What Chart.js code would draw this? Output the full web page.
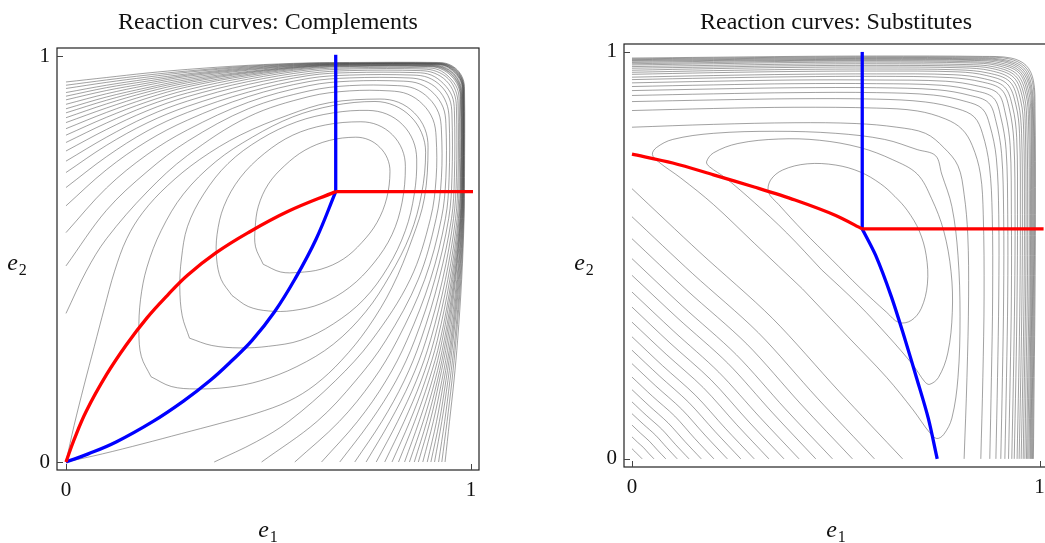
<!DOCTYPE html>
<html>
<head>
<meta charset="utf-8">
<script src="https://cdn.jsdelivr.net/npm/chart.js@4.4.1/dist/chart.umd.min.js"></script>
<style>
    body { margin: 0; background: #fff; width: 1045px; height: 543px; overflow: hidden; position: relative; font-family: "Liberation Serif", serif; color: #111; }
    canvas { position: absolute; top: 0; }
    .ttl { position: absolute; top: 8px; font-size: 24px; line-height: 26px; white-space: nowrap; transform: translateX(-50%); }
    .ax { position: absolute; font-size: 24px; line-height: 24px; white-space: nowrap; transform: translate(-50%, -50%); }
    .ax sub { font-size: 16px; vertical-align: baseline; position: relative; top: 5px; margin-left: 1px; }
</style>
</head>
<body>
<canvas id="comp" width="520" height="543" style="left:0"></canvas>
<canvas id="subs" width="540" height="543" style="left:520px"></canvas>

<div class="ttl" style="left:268px">Reaction curves: Complements</div>
<div class="ttl" style="left:836px">Reaction curves: Substitutes</div>
<div class="ax" style="left:17px; top:263px"><i>e</i><sub>2</sub></div>
<div class="ax" style="left:584px; top:263px"><i>e</i><sub>2</sub></div>
<div class="ax" style="left:268px; top:530px"><i>e</i><sub>1</sub></div>
<div class="ax" style="left:836px; top:530px"><i>e</i><sub>1</sub></div>

<script>
const tickVals = [0, 1];

// ---- Complements: reaction curves (x, y pairs)
const compRed = [0,0, .02,.055, .05,.125, .1,.215, .15,.29, .2,.355, .25,.41, .3,.46, .37,.515, .45,.565, .55,.618, .666,.666];
const compRedFlat = [.666,.666, 1.005,.666];
const compBlue = [0,0, .055,.02, .125,.05, .215,.1, .29,.15, .355,.2, .41,.25, .46,.3, .515,.37, .565,.45, .618,.55, .666,.666];
const compBlueUp = [.666,.666, .666,1.003];

// contours are symmetric about e1 = e2: each list runs from its start to the diagonal
const compLoops = [
    [.487,.487, .468,.53, .467,.575, .475,.63, .50,.685, .54,.73, .59,.768, .65,.792, .715,.80, .748,.7935, .775,.775],
    [.41,.41, .383,.45, .372,.50, .373,.56, .39,.63, .43,.70, .49,.76, .56,.805, .64,.83, .728,.838, .77,.83, .806,.806],
    [.305,.305, .287,.36, .281,.43, .285,.50, .30,.58, .34,.66, .40,.735, .48,.795, .57,.838, .66,.86, .746,.866, .792,.857, .831,.831],
    [.21,.21, .186,.26, .18,.32, .184,.40, .20,.48, .235,.57, .29,.66, .37,.74, .46,.80, .56,.85, .66,.878, .763,.888, .811,.878, .851,.851]
];
const compOpen = [
    [0,0, .02,.09, .045,.19, .07,.285, .095,.38, .12,.47, .15,.55, .19,.615, .25,.68, .33,.745, .43,.805, .55,.855, .65,.885, .775,.894, .821,.886, .86,.86],
    [0,.366, .05,.47, .1,.55, .2,.665, .3,.755, .45,.85, .6,.90, .7,.914, .80,.914, .844,.906, .881,.881],
    [0,.483, .1,.62, .2,.715, .3,.79, .45,.87, .6,.914, .7,.927, .818,.927, .86,.92, .896,.896],
    [0,.565, .1,.675, .2,.757, .3,.818, .45,.886, .6,.927, .7,.938, .834,.938, .874,.931, .908,.908],
    [0,.631, .1,.72, .2,.79, .3,.842, .45,.90, .6,.937, .7,.946, .847,.946, .885,.939, .918,.918],
    [0,.676, .1,.752, .2,.815, .3,.861, .45,.911, .6,.945, .7,.953, .857,.953, .894,.947, .926,.926],
    [0,.713, .1,.78, .2,.835, .3,.876, .45,.921, .6,.952, .7,.959, .866,.959, .902,.953, .932,.932],
    [0,.741, .1,.80, .2,.851, .3,.889, .45,.93, .6,.957, .7,.964, .875,.964, .909,.958, .939,.939],
    [0,.766, .1,.819, .2,.865, .3,.90, .45,.937, .6,.962, .7,.968, .882,.968, .915,.962, .944,.944],
    [0,.787, .1,.835, .2,.877, .3,.909, .45,.943, .6,.966, .7,.971, .887,.971, .92,.966, .947,.947],
    [0,.805, .1,.849, .2,.887, .3,.917, .45,.948, .6,.969, .7,.974, .893,.974, .924,.969, .951,.951],
    [0,.821, .1,.861, .2,.896, .3,.924, .45,.952, .6,.971, .7,.975, .896,.975, .927,.97, .953,.953],
    [0,.836, .1,.872, .2,.904, .3,.929, .45,.955, .6,.973, .7,.976, .899,.976, .929,.971, .954,.954],
    [0,.848, .1,.882, .2,.911, .3,.934, .45,.958, .6,.974, .7,.977, .902,.977, .931,.972, .956,.956],
    [0,.860, .1,.891, .2,.917, .3,.938, .45,.960, .6,.975, .7,.978, .905,.978, .933,.973, .957,.957],
    [0,.870, .1,.899, .2,.922, .3,.942, .45,.962, .6,.976, .7,.979, .908,.979, .936,.975, .959,.959],
    [0,.881, .1,.907, .2,.928, .3,.946, .45,.965, .6,.977, .7,.980, .911,.980, .938,.976, .960,.960],
    [0,.892, .1,.915, .2,.933, .3,.950, .45,.967, .6,.978, .7,.980, .912,.980, .938,.976, .961,.961],
    [0,.901, .1,.922, .2,.938, .3,.953, .45,.969, .6,.979, .7,.981, .914,.981, .94,.977, .962,.962],
    [0,.910, .1,.928, .2,.943, .3,.956, .45,.971, .6,.980, .7,.9815, .9155,.9815, .941,.9775, .963,.963],
    [0,.920, .1,.935, .2,.948, .3,.960, .45,.973, .6,.981, .7,.982, .917,.982, .942,.978, .964,.964],
    [0,.928, .1,.941, .2,.953, .3,.963, .45,.975, .6,.982, .7,.983, .918,.983, .943,.979, .965,.965],
    [0,.936, .1,.947, .2,.958, .3,.967, .45,.977, .6,.983, .7,.984, .919,.984, .944,.980, .966,.966]
];

// ---- Substitutes
const subsRed = [0,.749, .1,.727, .2,.698, .3,.668, .4,.636, .5,.598, .565,.565];
const subsRedFlat = [.565,.565, 1.01,.565];
const subsBlue = [.749,0, .727,.1, .698,.2, .668,.3, .636,.4, .598,.5, .565,.565];
const subsBlueUp = [.565,.565, .565,1.0];

const subsLoops = [
    [.49,.49, .42,.56, .36,.625, .335,.655, .34,.685, .37,.71, .43,.725, .50,.722, .56,.705, .61,.676, .645,.645],
    [.465,.465, .38,.555, .3,.63, .23,.69, .19,.718, .183,.73, .2,.752, .26,.775, .36,.786, .46,.783, .56,.765, .64,.735, .70,.70],
    [.418,.418, .3,.53, .2,.625, .12,.69, .065,.73, .05,.748, .06,.765, .1,.785, .2,.80, .35,.805, .5,.80, .62,.785, .70,.76, .745,.745]
];
const subsLower = [
    [0,.664, .166,.508, .345,.345],
    [0,.595, .149,.455, .310,.310],
    [0,.541, .135,.414, .282,.282],
    [0,.492, .123,.376, .256,.256],
    [0,.451, .113,.345, .235,.235],
    [0,.41, .1025,.3135, .213,.213],
    [0,.373, .093,.285, .194,.194],
    [0,.336, .084,.257, .175,.175],
    [0,.30, .075,.229, .156,.156],
    [0,.267, .067,.204, .139,.139],
    [0,.234, .0585,.179, .122,.122],
    [0,.201, .05,.154, .105,.105],
    [0,.17, .0425,.13, .0885,.0885],
    [0,.14, .035,.107, .073,.073],
    [0,.111, .028,.085, .058,.058],
    [0,.083, .021,.063, .043,.043],
    [0,.054, .0135,.041, .028,.028],
    [0,.025, .0125,.0125]
];
const subsOuter = [
    [0,.815, .2,.822, .4,.826, .55,.824, .65,.815, .72,.80, .765,.765],
    [0,.856, .2,.861, .4,.864, .6,.862, .7,.855, .77,.835, .81,.81],
    [0,.878, .2,.882, .4,.885, .6,.884, .72,.877, .8,.86, .84,.84],
    [0,.893, .2,.897, .4,.90, .6,.90, .74,.894, .82,.878, .86,.86],
    [0,.905, .2,.909, .4,.912, .6,.912, .75,.907, .83,.893, .875,.875],
    [0,.915, .2,.919, .4,.922, .6,.922, .76,.918, .84,.905, .887,.887],
    [0,.924, .2,.928, .4,.931, .6,.931, .77,.928, .85,.916, .898,.898],
    [0,.932, .2,.936, .4,.939, .6,.94, .78,.937, .86,.926, .907,.907],
    [0,.938, .2,.942, .4,.945, .6,.946, .79,.944, .865,.934, .914,.914],
    [0,.945, .2,.949, .4,.952, .6,.953, .8,.951, .87,.942, .921,.921],
    [0,.950, .2,.954, .4,.957, .6,.958, .8,.956, .875,.948, .927,.927],
    [0,.955, .2,.959, .4,.962, .6,.963, .81,.961, .88,.954, .932,.932],
    [0,.960, .2,.963, .4,.966, .6,.967, .82,.965, .885,.959, .937,.937],
    [0,.964, .2,.967, .4,.970, .6,.971, .82,.969, .89,.963, .941,.941],
    [0,.968, .2,.971, .4,.974, .6,.975, .83,.973, .895,.967, .945,.945],
    [0,.971, .2,.974, .4,.977, .6,.978, .83,.976, .9,.970, .949,.949],
    [0,.974, .2,.977, .4,.979, .6,.980, .84,.979, .905,.973, .952,.952],
    [0,.977, .2,.979, .4,.981, .6,.982, .84,.981, .91,.976, .955,.955],
    [0,.979, .2,.981, .4,.983, .6,.984, .85,.983, .915,.978, .958,.958],
    [0,.981, .2,.983, .4,.985, .6,.986, .85,.985, .92,.980, .961,.961],
    [0,.983, .2,.985, .4,.987, .6,.988, .86,.987, .925,.983, .964,.964],
    [0,.985, .2,.987, .4,.989, .6,.990, .86,.989, .93,.985, .967,.967]
];

const pairs = a => {
    const p = [];
    for (let i = 0; i < a.length; i += 2) p.push({ x: a[i], y: a[i + 1] });
    return p;
};
// upper half + its reflection in the diagonal
const mirror = half => {
    const p = pairs(half);
    return p.concat(p.slice(0, -1).reverse().map(q => ({ x: q.y, y: q.x })));
};

const line = (pts, color, width, tension) => ({
    data: pts, borderColor: color, borderWidth: width, pointRadius: 0,
    showLine: true, fill: false, tension: tension
});
const GRAY = 'rgba(70,70,70,0.5)';

const frame = {
    id: 'frame',
    afterDatasetsDraw(chart) {
        const { ctx, chartArea: a, scales: { x, y } } = chart;
        ctx.save();
        ctx.strokeStyle = '#222';
        ctx.lineWidth = 1.2;
        ctx.strokeRect(a.left, a.top, a.right - a.left, a.bottom - a.top);
        ctx.strokeStyle = '#444';
        ctx.lineWidth = 1;
        tickVals.forEach(v => {
            const px = Math.round(x.getPixelForValue(v)) + 0.5;
            const py = Math.round(y.getPixelForValue(v)) + 0.5;
            ctx.beginPath();
            ctx.moveTo(px, a.bottom); ctx.lineTo(px, a.bottom - 6);
            ctx.moveTo(a.left, py); ctx.lineTo(a.left + 6, py);
            ctx.stroke();
        });
        ctx.restore();
    }
};

const tickFont = { family: 'Liberation Serif', size: 21 };
const makeChart = (id, o) => new Chart(document.getElementById(id), {
    type: 'scatter',
    data: { datasets: o.datasets },
    options: {
        responsive: false, animation: false, devicePixelRatio: 1, events: [],
        layout: { padding: { left: 0, right: o.padRight, top: o.padTop, bottom: 0 } },
        plugins: { legend: { display: false }, tooltip: { enabled: false } },
        scales: {
            x: {
                type: 'linear', min: o.xMin, max: o.xMax,
                afterBuildTicks: s => { s.ticks = tickVals.map(v => ({ value: v })); },
                afterFit: s => { s.height = o.xHeight; },
                grid: { display: false, drawTicks: false }, border: { display: false },
                ticks: { padding: 8, color: '#111', font: tickFont, maxRotation: 0, autoSkip: false }
            },
            y: {
                type: 'linear', min: o.yMin, max: o.yMax,
                afterBuildTicks: s => { s.ticks = tickVals.map(v => ({ value: v })); },
                afterFit: s => { s.width = o.yWidth; },
                grid: { display: false, drawTicks: false }, border: { display: false },
                ticks: { padding: 7, color: '#111', font: tickFont, autoSkip: false }
            }
        }
    },
    plugins: [frame]
});

makeChart('comp', {
    xMin: -0.0222, xMax: 1.0198, yMin: -0.0197, yMax: 1.0197,
    padRight: 41, padTop: 48, xHeight: 73, yWidth: 57,
    datasets: [
        line(pairs(compRed), '#ff0000', 3.3, 0.4),
        line(pairs(compRedFlat), '#ff0000', 3.3, 0),
        line(pairs(compBlue), '#0000ff', 3.3, 0.4),
        line(pairs(compBlueUp), '#0000ff', 3.3, 0),
        ...compLoops.map(h => line(mirror(h), GRAY, 1, 0.35)),
        ...compOpen.map(h => line(mirror(h), GRAY, 1, 0.35))
    ]
});

makeChart('subs', {
    xMin: -0.0196, xMax: 1.0184, yMin: -0.02, yMax: 1.0195,
    padRight: 13, padTop: 44, xHeight: 76, yWidth: 104,
    datasets: [
        line(pairs(subsRed), '#ff0000', 3.3, 0.3),
        line(pairs(subsRedFlat), '#ff0000', 3.3, 0),
        line(pairs(subsBlue), '#0000ff', 3.3, 0.3),
        line(pairs(subsBlueUp), '#0000ff', 3.3, 0),
        ...subsLoops.map(h => line(mirror(h), GRAY, 1, 0.35)),
        ...subsLower.map(h => line(mirror(h), GRAY, 1, 0.3)),
        ...subsOuter.map(h => line(mirror(h), GRAY, 1, 0.35))
    ]
});
</script>
</body>
</html>
